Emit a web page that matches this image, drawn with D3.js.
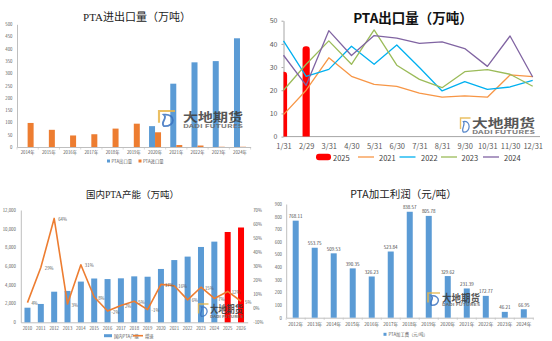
<!DOCTYPE html>
<html><head><meta charset="utf-8">
<script src="https://cdn.jsdelivr.net/npm/d3@7"></script>
<style>
body{margin:0;background:#fff}
svg{display:block}
</style>
</head><body>
<svg id="c" width="552" height="341"></svg>
<script>
// ---------- DATA ----------
const tradeYears = ["2014年","2015年","2016年","2017年","2018年","2019年","2020年","2021年","2022年","2023年","2024年"];
const exportVol = [0,0,0,0,0,0,85,258,345,350,443];
const importVol = [98,70,47,52,75,95,60,8,6,1,1];
const tradeTicks = [0,50,100,150,200,250,300,350,400,450,500];

const months = ["1/31","2/29","3/31","4/30","5/31","6/30","7/31","8/31","9/30","10/31","11/30","12/31"];
const exp2025 = [28,39];
const exp2021 = [9.5,20,34,26,22.5,21.7,18.8,17,17.6,17,26.6,25.9];
const exp2022 = [41.3,26,29,39,31.2,39.5,29.8,19.7,23.7,20.4,21.4,24.3];
const exp2023 = [20,31.2,41.3,31.2,46,30.8,24.7,21.1,28,28.9,26.9,21.7];
const exp2024 = [35.1,22.1,45.7,35,43.6,42.5,40.2,40.9,38,30.3,43.4,25.7];
const monthTicks = [0,10,20,30,40,50];

const capYears = ["2010","2011","2012","2013","2014","2015","2016","2017","2018","2019","2020","2021","2022","2023","2024","2025","2026"];
const capacity = [1560,1960,3270,3350,4350,4680,4620,4700,4910,4870,5700,6650,7020,8050,8620,9650,10130];
const growth = [4,29,64,3,31,8,-2,2,5,-1,17,16,6,15,7,12,5];
const capTicks = [0,2000,4000,6000,8000,10000,12000];
const growthTicks = [-10,0,10,20,30,40,50,60,70];
const forecastYears = ["2025","2026"];

const profitYears = ["2012年","2013年","2014年","2015年","2016年","2017年","2018年","2019年","2020年","2021年","2022年","2023年","2024年"];
const profit = [768.11,553.75,509.53,390.35,326.23,523.84,838.57,805.78,329.62,231.39,172.77,46.21,66.95];
const profitTicks = [0,100,200,300,400,500,600,700,800,900];

// ---------- HELPERS ----------
const SANS = '"Noto Sans CJK SC","Noto Sans",sans-serif';
const SERIF = '"Liberation Serif","DejaVu Serif","Noto Sans CJK SC",serif';
const GRAY = "#595959", AXC = "#bfbfbf";
const BLUE = "#5B9BD5", ORANGE = "#ED7D31", RED = "#FF0000";
const svg = d3.select("#c");

function text(g, x, y, s, o = {}) {
  return g.append("text").attr("x", x).attr("y", y).text(s)
    .attr("font-size", o.size || 5).attr("fill", o.fill || GRAY)
    .attr("font-family", o.family || SANS)
    .attr("font-weight", o.weight || "normal")
    .attr("text-anchor", o.anchor || "start")
    .attr("dominant-baseline", o.base || "central");
}
function styleAxis(sel, size, lineColor, noDomain) {
  sel.attr("font-size", size).attr("font-family", SANS);
  sel.selectAll("text").attr("fill", GRAY);
  sel.selectAll("line").attr("stroke", lineColor);
  sel.select(".domain").attr("stroke", noDomain ? "none" : lineColor);
}
function logo(p) {
  const g = svg.append("g").attr("opacity", 0.85);
  const {bx, by, bw, bh} = p;
  g.append("path").attr("d", `M${bx + bw},${by + 1} L${bx + 1},${by + 1} L${bx + 1},${by + bh * 0.75}`)
    .attr("fill", "none").attr("stroke", "#E8B64A").attr("stroke-width", Math.max(1.2, bw / 8));
  g.append("path").attr("d", `M${bx + bw * 0.35},${by + bh * 0.28} C${bx + bw * 1.05},${by + bh * 0.2} ${bx + bw * 1.05},${by + bh * 0.98} ${bx + bw * 0.35},${by + bh * 0.95} C${bx + bw * 0.1},${by + bh * 0.7} ${bx + bw * 0.6},${by + bh * 0.5} ${bx + bw * 0.35},${by + bh * 0.28} Z`)
    .attr("fill", "none").attr("stroke", "#3A72C0").attr("stroke-width", Math.max(1, bw / 9));
  g.append("text").attr("x", p.tx).attr("y", p.ty).text("大地期货")
    .attr("font-size", p.fs).attr("font-weight", "bold").attr("fill", "#3a3a3a")
    .attr("font-family", SANS).attr("textLength", p.tw).attr("lengthAdjust", "spacingAndGlyphs");
  g.append("text").attr("x", p.tx).attr("y", p.sy).text("DADI FUTURES")
    .attr("font-size", p.sfs).attr("font-weight", "bold").attr("fill", "#666")
    .attr("font-family", SANS).attr("textLength", p.tw).attr("lengthAdjust", "spacingAndGlyphs");
}

// ---------- PANEL 1: PTA进出口量 ----------
{
  const g = svg.append("g");
  const x = d3.scaleBand().domain(tradeYears).range([17, 250.6]);
  const y = d3.scaleLinear().domain([0, 500]).range([147, 24.3]);
  text(g, 137, 16.5, "PTA进出口量（万吨）", {size: 11, family: SERIF, fill: "#222", anchor: "middle"});
  g.append("g").attr("transform", "translate(17,0)")
    .call(d3.axisLeft(y).tickValues(tradeTicks).tickSize(0).tickPadding(4.5))
    .call(s => styleAxis(s, 4.3, AXC));
  g.append("g").attr("transform", "translate(0,147)")
    .call(d3.axisBottom(x).tickSize(0).tickPadding(4.3).tickSizeOuter(0))
    .call(s => styleAxis(s, 4.3, AXC));
  tradeYears.concat([null]).forEach((d, i) => {
    const xx = d === null ? x.range()[1] : x(d);
    g.append("line").attr("x1", xx).attr("x2", xx).attr("y1", 147).attr("y2", 149.5).attr("stroke", AXC).attr("stroke-width", 0.6);
  });
  const c = d => x(d) + x.bandwidth() / 2;
  g.selectAll(".ex").data(exportVol).join("rect")
    .attr("x", (d, i) => c(tradeYears[i]) - 6).attr("width", 6)
    .attr("y", d => y(d)).attr("height", d => y(0) - y(d)).attr("fill", BLUE);
  g.selectAll(".im").data(importVol).join("rect")
    .attr("x", (d, i) => c(tradeYears[i])).attr("width", 6)
    .attr("y", d => y(d)).attr("height", d => y(0) - y(d)).attr("fill", ORANGE);
  g.append("rect").attr("x", 107).attr("y", 159.5).attr("width", 3).attr("height", 3).attr("fill", BLUE);
  text(g, 111.5, 161, "PTA出口量", {size: 4.3});
  g.append("rect").attr("x", 138.5).attr("y", 159.5).attr("width", 3).attr("height", 3).attr("fill", ORANGE);
  text(g, 143, 161, "PTA进口量", {size: 4.3});
  logo({bx: 158, by: 110, bw: 17, bh: 17, tx: 183, ty: 121.5, tw: 60, fs: 12.5, sy: 128, sfs: 5});
}

// ---------- PANEL 2: PTA出口量 (monthly) ----------
{
  const g = svg.append("g");
  const x = d3.scalePoint().domain(months).range([283.5, 532.7]);
  const y = d3.scaleLinear().domain([0, 50]).range([136.6, 20.7]);
  text(g, 413, 16.5, "PTA出口量（万吨）", {size: 13.5, weight: "bold", fill: "#111", anchor: "middle"});
  g.append("g").attr("transform", "translate(283.5,0)")
    .call(d3.axisLeft(y).tickValues(monthTicks).tickSize(2).tickPadding(4).tickSizeOuter(0))
    .call(s => styleAxis(s, 7, "#a6a6a6"));
  g.append("line").attr("x1", 283.5).attr("x2", 540).attr("y1", y(0)).attr("y2", y(0)).attr("stroke", "#a6a6a6");
  g.append("g").attr("transform", `translate(0,${y(0)})`)
    .call(d3.axisBottom(x).tickSize(0).tickPadding(7.5))
    .call(s => styleAxis(s, 7.5, "#a6a6a6", true));
  const clip = svg.append("clipPath").attr("id", "p2clip");
  clip.append("rect").attr("x", 283.5).attr("y", 0).attr("width", 260).attr("height", y(0));
  g.append("g").attr("clip-path", "url(#p2clip)").selectAll("rect").data(exp2025).join("rect")
    .attr("x", (d, i) => x(months[i]) - 3.6).attr("width", 7.2)
    .attr("y", d => y(d)).attr("height", d => y(0) - y(d) + 4)
    .attr("rx", 3.2).attr("fill", RED);
  const series = [[exp2021, "#F79646"], [exp2022, "#00B0F0"], [exp2023, "#9BBB59"], [exp2024, "#8064A2"]];
  const line = d3.line().x((d, i) => x(months[i])).y(d => y(d));
  series.forEach(([vals, col]) => {
    g.append("path").datum(vals).attr("d", line).attr("fill", "none")
      .attr("stroke", col).attr("stroke-width", 1.3).attr("stroke-linejoin", "round");
  });
  // legend
  g.append("rect").attr("x", 316).attr("y", 153.8).attr("width", 15).attr("height", 6.5).attr("rx", 3).attr("fill", RED);
  text(g, 333, 157, "2025", {size: 7.5, fill: "#404040"});
  const leg = [["2021", "#F79646", 358, 379], ["2022", "#00B0F0", 399.5, 421], ["2023", "#9BBB59", 441, 461.5], ["2024", "#8064A2", 483, 504]];
  leg.forEach(([lab, col, lx, tx]) => {
    g.append("line").attr("x1", lx).attr("x2", lx + 16).attr("y1", 157).attr("y2", 157).attr("stroke", col).attr("stroke-width", 1.3);
    text(g, tx, 157, lab, {size: 7.5, fill: "#404040"});
  });
  logo({bx: 459.5, by: 117, bw: 11, bh: 16, tx: 472, ty: 127.5, tw: 63, fs: 12, sy: 134, sfs: 5});
}

// ---------- PANEL 3: 国内PTA产能 ----------
{
  const g = svg.append("g");
  const x = d3.scaleBand().domain(capYears).range([20.8, 247.7]);
  const yL = d3.scaleLinear().domain([0, 12000]).range([322.3, 210]);
  const yR = d3.scaleLinear().domain([-10, 70]).range([322.3, 210]);
  text(g, 132.5, 195, "国内PTA产能（万吨）", {size: 9.5, family: SERIF, fill: "#222", anchor: "middle"});
  g.append("g").attr("transform", "translate(20.8,0)")
    .call(d3.axisLeft(yL).tickValues(capTicks).tickFormat(d3.format(",")).tickSize(0).tickPadding(5))
    .call(s => styleAxis(s, 4.3, AXC));
  g.append("g").attr("transform", "translate(247.7,0)")
    .call(d3.axisRight(yR).tickValues(growthTicks).tickFormat(d => d + "%").tickSize(0).tickPadding(5.5))
    .call(s => styleAxis(s, 4.3, AXC, true));
  g.append("g").attr("transform", "translate(0,322.3)")
    .call(d3.axisBottom(x).tickSize(0).tickPadding(4.2).tickSizeOuter(0))
    .call(s => styleAxis(s, 4.3, AXC));
  const c = d => x(d) + x.bandwidth() / 2;
  g.selectAll(".cap").data(capacity).join("rect")
    .attr("x", (d, i) => c(capYears[i]) - 3).attr("width", 6)
    .attr("y", d => yL(d)).attr("height", d => yL(0) - yL(d))
    .attr("fill", (d, i) => forecastYears.includes(capYears[i]) ? RED : BLUE);
  const line = d3.line().x((d, i) => c(capYears[i])).y(d => yR(d));
  g.append("path").datum(growth).attr("d", line).attr("fill", "none")
    .attr("stroke", ORANGE).attr("stroke-width", 1.6).attr("stroke-linejoin", "round");
  growth.forEach((d, i) => text(g, c(capYears[i]) + 4, yR(d) + 0.6, d + "%", {size: 4.3}));
  g.append("rect").attr("x", 104).attr("y", 334.2).attr("width", 8).attr("height", 3).attr("fill", BLUE);
  text(g, 114, 335.7, "国内PTA产能", {size: 4.3});
  g.append("line").attr("x1", 133).attr("x2", 143).attr("y1", 335.7).attr("y2", 335.7).attr("stroke", ORANGE).attr("stroke-width", 1.6);
  text(g, 145, 335.7, "增速", {size: 4.3});
  logo({bx: 197.5, by: 303, bw: 11, bh: 14, tx: 210, ty: 312.5, tw: 33, fs: 10, sy: 317.5, sfs: 3.5});
}

// ---------- PANEL 4: PTA加工利润 ----------
{
  const g = svg.append("g");
  const x = d3.scaleBand().domain(profitYears).range([286.2, 533.3]);
  const y = d3.scaleLinear().domain([0, 900]).range([317.7, 204]);
  text(g, 403.5, 193, "PTA加工利润（元/吨）", {size: 10.5, fill: "#222", anchor: "middle"});
  g.append("g").attr("transform", "translate(286.2,0)")
    .call(d3.axisLeft(y).tickValues(profitTicks).tickSize(0).tickPadding(4.3))
    .call(s => styleAxis(s, 4.3, AXC));
  g.append("g").attr("transform", "translate(0,317.7)")
    .call(d3.axisBottom(x).tickSize(0).tickPadding(4.6).tickSizeOuter(0))
    .call(s => styleAxis(s, 4.7, AXC));
  profitYears.concat([null]).forEach(d => {
    const xx = d === null ? x.range()[1] : x(d);
    g.append("line").attr("x1", xx).attr("x2", xx).attr("y1", 317.7).attr("y2", 320).attr("stroke", AXC).attr("stroke-width", 0.6);
  });
  const c = d => x(d) + x.bandwidth() / 2;
  g.selectAll(".pf").data(profit).join("rect")
    .attr("x", (d, i) => c(profitYears[i]) - 3).attr("width", 6)
    .attr("y", d => y(d)).attr("height", d => y(0) - y(d)).attr("fill", BLUE);
  profit.forEach((d, i) => text(g, c(profitYears[i]), y(d) - 4.5, d3.format(".2f")(d), {size: 4.5, anchor: "middle", fill: "#404040"}));
  g.append("rect").attr("x", 383.5).attr("y", 332.8).attr("width", 3).attr("height", 3).attr("fill", BLUE);
  text(g, 388.5, 334.3, "PTA加工费（元/吨）", {size: 4.3});
  logo({bx: 427, by: 292, bw: 13, bh: 14, tx: 442, ty: 301.5, tw: 38, fs: 10.5, sy: 306.3, sfs: 4});
}
</script>
</body></html>
